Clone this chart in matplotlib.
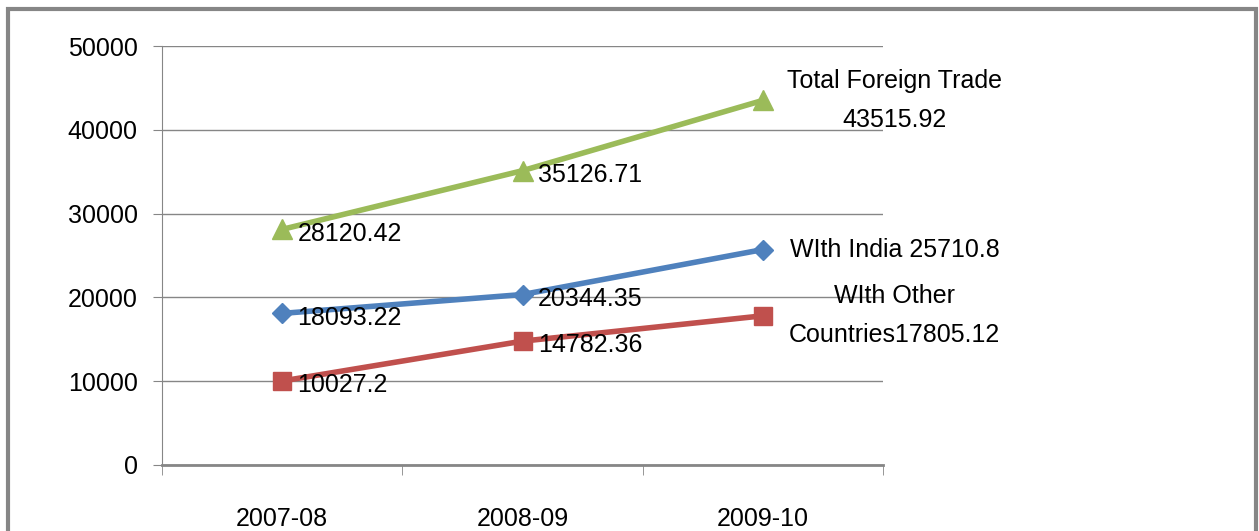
import matplotlib
matplotlib.use('Agg')
import matplotlib.pyplot as plt
from matplotlib.patches import Rectangle

# данные
years = ['2007-08', '2008-09', '2009-10']
total_trade = [28120.42, 35126.71, 43515.92]
with_india = [18093.22, 20344.35, 25710.8]
with_other = [10027.2, 14782.36, 17805.12]

plt.rcParams['font.family'] = ['Liberation Sans', 'DejaVu Sans']

fig = plt.figure(figsize=(12.59, 5.31), dpi=100)
ax = fig.add_axes([0.1287, 0.1243, 0.5727, 0.789])

# рамка вокруг рисунка
fig.patches.append(Rectangle((8 / 1259, -0.1), 1248 / 1259, 1.1 - 9 / 531,
                             transform=fig.transFigure, fill=False,
                             edgecolor='#868686', linewidth=3))

x = list(range(len(years)))
ax.plot(x, total_trade, color='#9BBB59', linewidth=4, marker='^', markersize=14)
ax.plot(x, with_india, color='#4F81BD', linewidth=4, marker='D', markersize=10)
ax.plot(x, with_other, color='#C0504D', linewidth=4, marker='s', markersize=13)

fs = 18
for series in (total_trade, with_india, with_other):
    for i in range(2):
        ax.annotate(str(series[i]), (x[i], series[i]), xytext=(11, -3),
                    textcoords='offset points', va='center', ha='left', fontsize=fs)

last_labels = ['Total Foreign Trade\n43515.92', 'WIth India 25710.8',
               'WIth Other\nCountries17805.12']
for lab, series in zip(last_labels, (total_trade, with_india, with_other)):
    ax.annotate(lab, (x[2], series[2]), xytext=(95, 0), textcoords='offset points',
                va='center', ha='center', fontsize=fs, linespacing=1.8,
                annotation_clip=False)

ax.set_xlim(-0.5, 2.5)
ax.set_ylim(0, 50000)
ax.set_yticks(range(0, 50001, 10000))
ax.set_xticks(x)
ax.set_xticklabels(years, fontsize=fs)
ax.set_xticks([-0.5, 0.5, 1.5, 2.5], minor=True)
ax.tick_params(axis='x', which='major', length=0, pad=30)
ax.tick_params(axis='x', which='minor', length=7, color='#868686', direction='out')
ax.tick_params(axis='y', length=6.5, color='#868686', labelsize=fs, pad=11)

ax.grid(True, axis='y', color='#868686', linewidth=1)
ax.set_axisbelow(True)
for s in ('top', 'right'):
    ax.spines[s].set_visible(False)
for s in ('left', 'bottom'):
    ax.spines[s].set_color('#868686')
ax.spines['bottom'].set_linewidth(2)
ax.spines['bottom'].set_zorder(0.5)

fig.savefig('out.png', dpi=100)
